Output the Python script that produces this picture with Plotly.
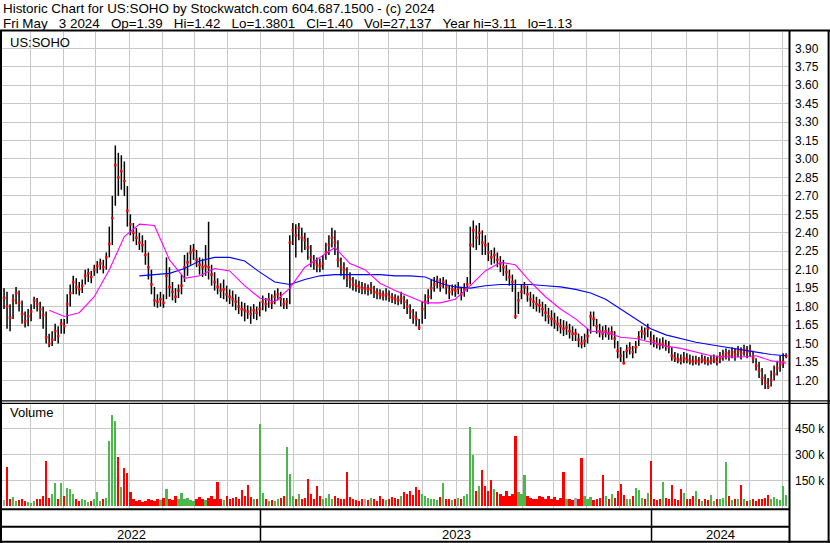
import pandas as pd
import plotly.graph_objects as go

W, H = 830, 543

# ---------------- data (2-day bars, May 2022 - May 3 2024) ----------------
close = [
    1.87, 1.80, 1.71, 1.85, 1.91, 1.83, 1.74, 1.68, 1.72, 1.76,
    1.85, 1.82, 1.78, 1.73, 1.55, 1.50, 1.53, 1.60, 1.56, 1.66,
    1.64, 1.82, 1.91, 2.00, 1.96, 1.94, 1.97, 2.05, 2.07, 2.04,
    2.10, 2.13, 2.15, 2.12, 2.20, 2.31, 2.52, 2.95, 2.85, 2.90,
    2.82, 2.58, 2.47, 2.40, 2.36, 2.32, 2.30, 2.22, 2.12, 1.98,
    1.85, 1.84, 1.86, 1.83, 2.05, 1.96, 1.92, 1.88, 1.93, 1.97,
    2.12, 2.16, 2.24, 2.26, 2.18, 2.14, 2.12, 2.13, 2.12, 2.06,
    2.00, 1.96, 1.93, 1.94, 1.90, 1.88, 1.86, 1.84, 1.80, 1.78,
    1.77, 1.76, 1.74, 1.77, 1.75, 1.78, 1.84, 1.82, 1.86, 1.83,
    1.88, 1.90, 1.86, 1.82, 1.84, 2.32, 2.42, 2.38, 2.44, 2.36,
    2.34, 2.28, 2.20, 2.16, 2.14, 2.13, 2.15, 2.24, 2.30, 2.36,
    2.32, 2.18, 2.12, 2.10, 2.04, 2.02, 1.98, 1.97, 1.96, 1.95,
    1.95, 1.94, 1.95, 1.92, 1.91, 1.90, 1.89, 1.90, 1.88, 1.87,
    1.86, 1.85, 1.87, 1.84, 1.80, 1.76, 1.72, 1.70, 1.63, 1.78,
    1.84, 1.88, 1.95, 1.98, 2.01, 1.97, 2.00, 1.96, 1.92, 1.94,
    1.93, 1.95, 1.90, 1.94, 1.98, 2.30, 2.42, 2.36, 2.40, 2.32,
    2.30, 2.24, 2.20, 2.22, 2.18, 2.15, 2.12, 2.08, 2.04, 2.00,
    1.72, 1.85, 1.92, 1.96, 1.90, 1.86, 1.84, 1.82, 1.81, 1.78,
    1.75, 1.72, 1.70, 1.68, 1.66, 1.64, 1.62, 1.63, 1.60, 1.58,
    1.58, 1.53, 1.50, 1.52, 1.56, 1.72, 1.70, 1.64, 1.60, 1.58,
    1.60, 1.58, 1.59, 1.54, 1.44, 1.40, 1.34, 1.44, 1.46, 1.43,
    1.47, 1.55, 1.60, 1.58, 1.62, 1.54, 1.52, 1.50, 1.49, 1.50,
    1.48, 1.47, 1.40, 1.38, 1.37, 1.36, 1.38, 1.37, 1.36, 1.35,
    1.36, 1.35, 1.37, 1.36, 1.35, 1.36, 1.37, 1.35, 1.38, 1.40,
    1.42, 1.40, 1.43, 1.41, 1.44, 1.42, 1.45, 1.43, 1.44, 1.38,
    1.32, 1.28, 1.22, 1.18, 1.15, 1.20, 1.25, 1.30, 1.33, 1.35, 1.40,
]
high = [
    1.95, 1.92, 1.82, 1.90, 1.96, 1.93, 1.85, 1.76, 1.78, 1.82,
    1.88, 1.87, 1.84, 1.80, 1.76, 1.58, 1.60, 1.66, 1.64, 1.70,
    1.70, 1.90, 1.98, 2.05, 2.03, 2.00, 2.02, 2.10, 2.11, 2.09,
    2.14, 2.17, 2.19, 2.18, 2.24, 2.45, 2.70, 3.11, 3.05, 3.03,
    2.98, 2.78, 2.55, 2.48, 2.44, 2.40, 2.38, 2.34, 2.24, 2.10,
    1.96, 1.90, 1.92, 1.90, 2.20, 2.12, 2.00, 1.95, 1.98, 2.06,
    2.22, 2.24, 2.30, 2.31, 2.26, 2.20, 2.19, 2.30, 2.49, 2.14,
    2.08, 2.03, 1.99, 2.02, 1.97, 1.94, 1.93, 1.90, 1.88, 1.84,
    1.83, 1.81, 1.80, 1.82, 1.80, 1.84, 1.89, 1.87, 1.91, 1.90,
    1.93, 1.95, 1.92, 1.87, 1.87, 2.38, 2.48, 2.47, 2.48, 2.44,
    2.40, 2.36, 2.30, 2.22, 2.20, 2.19, 2.22, 2.32, 2.38, 2.44,
    2.42, 2.34, 2.20, 2.16, 2.12, 2.08, 2.04, 2.02, 2.01, 2.00,
    1.99, 1.98, 2.00, 1.97, 1.95, 1.94, 1.93, 1.95, 1.93, 1.91,
    1.90, 1.89, 1.92, 1.89, 1.86, 1.82, 1.78, 1.76, 1.70, 1.84,
    1.90, 1.94, 2.02, 2.04, 2.05, 2.03, 2.04, 2.02, 1.97, 1.98,
    1.98, 2.00, 1.96, 1.99, 2.04, 2.45, 2.50, 2.46, 2.48, 2.42,
    2.38, 2.32, 2.26, 2.28, 2.24, 2.21, 2.18, 2.14, 2.10, 2.06,
    2.02, 1.92, 1.98, 2.00, 1.97, 1.92, 1.90, 1.88, 1.86, 1.84,
    1.82, 1.79, 1.77, 1.75, 1.72, 1.70, 1.69, 1.68, 1.66, 1.64,
    1.62, 1.58, 1.56, 1.58, 1.62, 1.76, 1.76, 1.70, 1.66, 1.64,
    1.65, 1.63, 1.64, 1.60, 1.52, 1.47, 1.44, 1.49, 1.51, 1.48,
    1.52, 1.60, 1.64, 1.63, 1.66, 1.60, 1.57, 1.55, 1.54, 1.55,
    1.53, 1.52, 1.47, 1.43, 1.42, 1.41, 1.43, 1.42, 1.41, 1.40,
    1.40, 1.39, 1.41, 1.40, 1.39, 1.40, 1.41, 1.40, 1.43, 1.45,
    1.46, 1.45, 1.47, 1.46, 1.48, 1.47, 1.49, 1.48, 1.49, 1.44,
    1.38, 1.35, 1.30, 1.25, 1.22, 1.28, 1.32, 1.36, 1.40, 1.42, 1.42,
]
low = [
    1.78, 1.62, 1.60, 1.70, 1.82, 1.76, 1.66, 1.63, 1.64, 1.68,
    1.78, 1.76, 1.70, 1.62, 1.50, 1.47, 1.48, 1.52, 1.50, 1.58,
    1.58, 1.66, 1.80, 1.90, 1.90, 1.89, 1.91, 1.98, 2.00, 1.99,
    2.05, 2.07, 2.10, 2.07, 2.10, 2.20, 2.30, 2.62, 2.70, 2.75,
    2.70, 2.45, 2.38, 2.33, 2.30, 2.26, 2.24, 2.14, 2.02, 1.90,
    1.80, 1.79, 1.80, 1.79, 1.86, 1.88, 1.85, 1.83, 1.87, 1.90,
    2.00, 2.05, 2.14, 2.18, 2.12, 2.06, 2.04, 2.05, 2.02, 1.97,
    1.93, 1.90, 1.87, 1.86, 1.84, 1.82, 1.80, 1.77, 1.74, 1.72,
    1.68, 1.70, 1.66, 1.70, 1.69, 1.72, 1.77, 1.76, 1.79, 1.78,
    1.82, 1.85, 1.80, 1.78, 1.78, 1.82, 2.30, 2.20, 2.34, 2.24,
    2.26, 2.18, 2.12, 2.10, 2.08, 2.08, 2.10, 2.18, 2.22, 2.28,
    2.22, 2.12, 2.05, 2.02, 1.96, 1.95, 1.93, 1.92, 1.91, 1.90,
    1.90, 1.89, 1.90, 1.87, 1.86, 1.86, 1.85, 1.85, 1.84, 1.83,
    1.82, 1.81, 1.82, 1.78, 1.74, 1.70, 1.66, 1.64, 1.61, 1.66,
    1.70, 1.82, 1.86, 1.92, 1.95, 1.92, 1.95, 1.90, 1.86, 1.89,
    1.88, 1.90, 1.85, 1.88, 1.92, 1.98, 2.28, 2.26, 2.30, 2.22,
    2.22, 2.17, 2.14, 2.15, 2.12, 2.08, 2.05, 2.01, 1.97, 1.92,
    1.70, 1.74, 1.86, 1.90, 1.84, 1.80, 1.78, 1.76, 1.75, 1.72,
    1.68, 1.66, 1.64, 1.62, 1.60, 1.58, 1.56, 1.57, 1.54, 1.52,
    1.52, 1.47, 1.46, 1.47, 1.50, 1.58, 1.64, 1.58, 1.55, 1.53,
    1.55, 1.53, 1.53, 1.46, 1.38, 1.35, 1.33, 1.38, 1.41, 1.38,
    1.42, 1.48, 1.54, 1.53, 1.55, 1.49, 1.47, 1.46, 1.45, 1.46,
    1.44, 1.42, 1.36, 1.35, 1.34, 1.33, 1.34, 1.34, 1.33, 1.32,
    1.33, 1.32, 1.34, 1.33, 1.32, 1.33, 1.34, 1.32, 1.34, 1.36,
    1.37, 1.36, 1.38, 1.36, 1.39, 1.37, 1.40, 1.38, 1.39, 1.34,
    1.28, 1.22, 1.16, 1.13, 1.13, 1.15, 1.20, 1.24, 1.27, 1.30, 1.38,
]
volume_k = [
    35, 225, 40, 55, 30, 35, 45, 30, 25, 20,
    30, 45, 40, 60, 260, 50, 70, 133, 40, 133,
    60, 104, 100, 70, 40, 30, 45, 35, 25, 30,
    40, 81, 30, 45, 50, 375, 525, 490, 283, 110,
    219, 190, 81, 40, 30, 35, 25, 30, 40, 35,
    30, 45, 35, 50, 98, 40, 35, 60, 45, 75,
    40, 50, 35, 30, 45, 55, 40, 35, 50, 60,
    45, 138, 40, 35, 60, 45, 50, 55, 40, 92,
    60, 121, 55, 40, 45, 473, 75, 40, 30, 35,
    30, 45, 50, 60, 340, 185, 58, 40, 70, 45,
    50, 160, 70, 40, 120, 60, 45, 50, 70, 40,
    60, 50, 45, 40, 200, 55, 40, 35, 30, 40,
    40, 35, 50, 45, 30, 60, 40, 35, 45, 55,
    50, 45, 60, 80, 70, 90, 65, 110, 95, 70,
    60, 50, 45, 40, 35, 55, 133, 45, 40, 35,
    40, 50, 45, 60, 70, 456, 294, 90, 120, 208,
    120, 90, 150, 100, 80, 70, 60, 90, 60, 70,
    404, 80, 70, 180, 60, 50, 45, 40, 60, 55,
    45, 60, 40, 55, 35, 50, 200, 45, 40, 35,
    50, 45, 280, 60, 40, 55, 35, 45, 50, 180,
    60, 45, 70, 50, 90, 130, 63, 45, 40, 60,
    104, 92, 50, 40, 75, 260, 40, 35, 45, 138,
    50, 45, 121, 40, 35, 98, 75, 45, 40, 60,
    87, 40, 30, 40, 35, 63, 30, 40, 45, 50,
    254, 60, 35, 40, 45, 121, 40, 30, 35, 40,
    30, 40, 45, 50, 63, 45, 52, 40, 35, 115, 68,
]
# moving averages, read every 5th bar
ma_short = [
    None, None, None, 1.77, 1.72, 1.75, 1.88, 2.10, 2.37, 2.47,
    2.46, 2.18, 2.03, 2.05, 2.11, 2.09, 1.97, 1.87, 1.84, 1.95,
    2.12, 2.20, 2.28, 2.15, 2.10, 1.99, 1.93, 1.88, 1.83, 1.83,
    1.86, 1.97, 2.09, 2.16, 2.14, 2.00, 1.88, 1.78, 1.70, 1.60,
    1.59, 1.55, 1.54, 1.51, 1.48, 1.46, 1.43, 1.40, 1.39, 1.39,
    1.40, 1.36, 1.34,
]
ma_long = [
    None, None, None, None, None, None, None, None, None, 2.05,
    2.06, 2.07, 2.11, 2.17, 2.20, 2.20, 2.17, 2.08, 2.00, 1.98,
    2.02, 2.05, 2.06, 2.06, 2.06, 2.06, 2.05, 2.05, 2.04, 1.99,
    1.96, 1.95, 1.97, 1.98, 1.98, 1.98, 1.97, 1.96, 1.94, 1.91,
    1.86, 1.78, 1.70, 1.62, 1.57, 1.54, 1.51, 1.49, 1.47, 1.45,
    1.43, 1.41, 1.40,
]
price_ticks = [1.20, 1.35, 1.50, 1.65, 1.80, 1.95, 2.10, 2.25, 2.40, 2.55,
               2.70, 2.85, 3.00, 3.15, 3.30, 3.45, 3.60, 3.75, 3.90]
volume_ticks = [150, 300, 450]
volume_tick_text = ["150 k", "300 k", "450 k"]

S3 = "\u00a0\u00a0\u00a0"
title1 = "Historic Chart for US:SOHO by Stockwatch.com 604.687.1500 - (c) 2024"
title2 = S3.join(["Fri May", "3 2024", "Op=1.39", "Hi=1.42", "Lo=1.3801", "Cl=1.40",
                  "Vol=27,137", "Year hi=3.11", "lo=1.13"])

# ---------------- positions ----------------
days = pd.bdate_range("2022-05-05", "2024-05-03")
bar_days = days[1::2]
pos = {d: i for i, d in enumerate(days)}
bx = [pos[d] for d in bar_days]
ma_x = bx[::5]

month_lines = [k - 0.5 for k in range(1, len(days)) if days[k].month != days[k - 1].month]
year_lines = [k - 0.5 for k in range(1, len(days)) if days[k].year != days[k - 1].year]
XR = [-0.35, len(days) + 0.9]

def py(p):
    return 1 - p / H

def pxx(p):
    return p / W

FONT = "Liberation Sans, Arial, sans-serif"

# HL bars
hx, hy = [], []
for x, lo_, hi_ in zip(bx, low, high):
    hx += [x, x, None]
    hy += [lo_, hi_, None]

vcol = []
for i, c in enumerate(close):
    prev = close[i - 1] if i > 0 else c
    vcol.append("#4CB84C" if c > prev else ("#FF0000" if c < prev else "#A8A8A8"))

fig = go.Figure()
fig.add_trace(go.Scatter(x=hx, y=hy, mode="lines", line=dict(color="black", width=1.5),
                         xaxis="x", yaxis="y", hoverinfo="skip"))
fig.add_trace(go.Scatter(x=bx, y=close, mode="markers",
                         marker=dict(color="#FF0000", size=2.5, symbol="square", line=dict(width=0)),
                         xaxis="x", yaxis="y"))
fig.add_trace(go.Scatter(x=ma_x, y=ma_long, mode="lines", line=dict(color="#0000FF", width=1.1),
                         xaxis="x", yaxis="y"))
fig.add_trace(go.Scatter(x=ma_x, y=ma_short, mode="lines", line=dict(color="#FF00FF", width=1.1),
                         xaxis="x", yaxis="y"))
fig.add_trace(go.Bar(x=bx, y=volume_k, marker=dict(color=vcol, line=dict(width=0)), width=1.5,
                     xaxis="x2", yaxis="y2"))

grid = "#C8C8C8"
axis_common = dict(showline=False, zeroline=False, ticks="", showgrid=True, gridcolor=grid, gridwidth=1)

fig.update_layout(
    width=W, height=H,
    margin=dict(l=0, r=0, t=0, b=0),
    paper_bgcolor="white", plot_bgcolor="white",
    showlegend=False, bargap=0,
    font=dict(family=FONT, size=12, color="black"),
    xaxis=dict(domain=[pxx(2), pxx(789)], range=XR, tickmode="array", tickvals=month_lines,
               showticklabels=False, anchor="y", **axis_common),
    xaxis2=dict(domain=[pxx(2), pxx(789)], range=XR, tickmode="array", tickvals=month_lines,
                showticklabels=False, anchor="y2", matches="x", **axis_common),
    yaxis=dict(domain=[py(400), py(32)], range=[1.0405, 4.0325], side="right", anchor="x",
               tickmode="array", tickvals=price_ticks, tickformat=".2f",
               ticklabelstandoff=5, tickfont=dict(size=12, family=FONT, color="black"),
               **axis_common),
    yaxis2=dict(domain=[py(509), py(404)], range=[-15.6, 590.2], side="right", anchor="x2",
                tickmode="array", tickvals=volume_ticks, ticktext=volume_tick_text,
                ticklabelstandoff=5, tickfont=dict(size=12, family=FONT, color="black"),
                **axis_common),
)

shapes = []
def hline(y, x0, x1, w=2):
    shapes.append(dict(type="line", xref="paper", yref="paper", x0=pxx(x0), x1=pxx(x1),
                       y0=py(y), y1=py(y), line=dict(color="black", width=w), layer="above"))
def vline(x, y0, y1, w=2):
    shapes.append(dict(type="line", xref="paper", yref="paper", x0=pxx(x), x1=pxx(x),
                       y0=py(y0), y1=py(y1), line=dict(color="black", width=w), layer="above"))

hline(30.5, 0, 830)
hline(400.8, 0, 830, 1.2)
hline(403.3, 0, 830, 1.2)
hline(509.2, 0, 789.5)
hline(526.7, 0, 789.5)
hline(541.8, 0, 830)
vline(1, 30, 543)
vline(789.5, 30, 543)
vline(828.6, 30, 543)
for yl in year_lines:
    shapes.append(dict(type="line", xref="x", yref="paper", x0=yl, x1=yl, y0=py(509), y1=py(542),
                       line=dict(color="black", width=1.5), layer="above"))
fig.update_layout(shapes=shapes)

ann = [
    dict(text=title1, x=pxx(1), y=py(-1), xanchor="left", yanchor="top", font=dict(size=13.4)),
    dict(text=title2, x=pxx(1), y=py(14), xanchor="left", yanchor="top", font=dict(size=13.4)),
    dict(text="US:SOHO", x=pxx(8), y=py(42), xanchor="left", yanchor="middle", font=dict(size=13)),
    dict(text="Volume", x=pxx(8), y=py(413), xanchor="left", yanchor="middle", font=dict(size=13)),
]
for a in ann:
    a["font"].update(family=FONT, color="black")
    a.update(xref="paper", yref="paper", showarrow=False)

bounds = [XR[0]] + year_lines + [XR[1]]
for k in range(len(bounds) - 1):
    yr = days[int(bounds[k] + 0.5) if bounds[k] > 0 else 0].year
    ann.append(dict(text=str(yr), x=(bounds[k] + bounds[k + 1]) / 2, y=py(534), xref="x", yref="paper",
                    xanchor="center", yanchor="middle", showarrow=False,
                    font=dict(family=FONT, size=13, color="black")))
fig.update_layout(annotations=ann)

fig.write_html("out.html", config={"displayModeBar": False},
               post_script="document.body.style.margin='0';document.body.style.overflow='hidden';")
